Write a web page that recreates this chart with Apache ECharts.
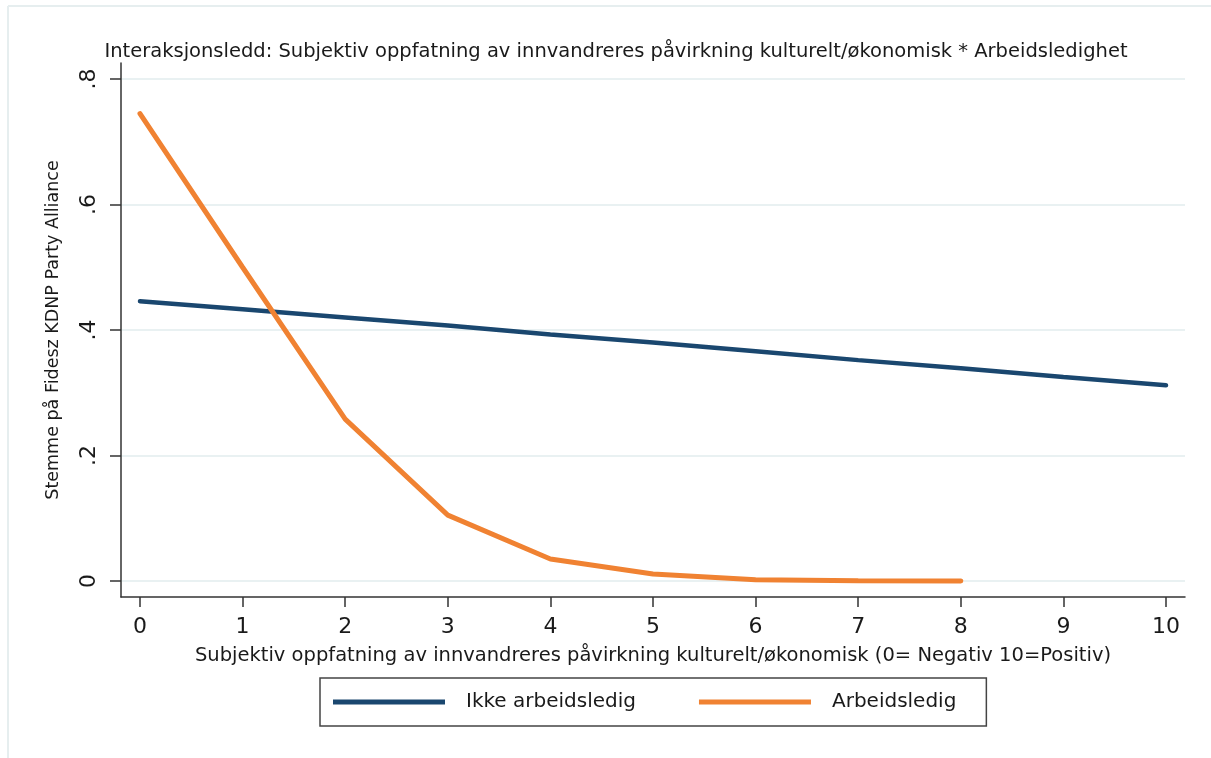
<!DOCTYPE html>
<html>
<head>
<meta charset="utf-8">
<script src="https://cdn.jsdelivr.net/npm/echarts@6/dist/echarts.min.js"></script>
<style>
html,body{margin:0;padding:0;background:#fff;}
#chart{width:1211px;height:758px;}
</style>
</head>
<body>
<div id="chart"></div>
<script>
var xValues = [0, 1, 2, 3, 4, 5, 6, 7, 8, 9, 10];
var ikkeArbeidsledig = [0.446, 0.433, 0.420, 0.407, 0.393, 0.380, 0.366, 0.352, 0.339, 0.325, 0.312];
var arbeidsledig = [0.745, 0.500, 0.258, 0.105, 0.035, 0.011, 0.002, 0.0005, 0.0001];
var xTicks = [0, 1, 2, 3, 4, 5, 6, 7, 8, 9, 10];
var yTicks = [0, 0.2, 0.4, 0.6, 0.8];
var yTickLabels = ['0', '.2', '.4', '.6', '.8'];

var FONT = '"DejaVu Sans", "Liberation Sans", Arial, sans-serif';
var chart = echarts.init(document.getElementById('chart'), null, {renderer: 'canvas'});

function pairs(xs, ys) {
  return ys.map(function (v, i) { return [xs[i], v]; });
}

chart.setOption({
  backgroundColor: '#ffffff',
  animation: false,
  title: {
    text: 'Interaksjonsledd: Subjektiv oppfatning av innvandreres påvirkning kulturelt/økonomisk * Arbeidsledighet',
    left: 611, top: 37, textAlign: 'center',
    textStyle: {fontFamily: FONT, fontSize: 19.5, fontWeight: 'normal', color: '#1a1a1a'}
  },
  graphic: [
    {type: 'line', shape: {x1: 8, y1: 6, x2: 1211, y2: 6}, style: {stroke: '#e6eeef', lineWidth: 2}},
    {type: 'line', shape: {x1: 8, y1: 6, x2: 8, y2: 758}, style: {stroke: '#e6eeef', lineWidth: 2}}
  ],
  legend: {
    left: 320, top: 678,
    itemWidth: 112, itemHeight: 5,
    itemGap: 63,
    padding: [14, 30, 14, 13],
    borderColor: '#444', borderWidth: 1.5, borderRadius: 0,
    icon: 'rect',
    textStyle: {fontFamily: FONT, fontSize: 20, color: '#1a1a1a', padding: [0, 0, 0, 16]},
    data: ['Ikke arbeidsledig', 'Arbeidsledig']
  },
  grid: {left: 121, right: 26, top: 63, bottom: 161, containLabel: false},
  xAxis: {
    type: 'value',
    min: -0.185, max: 10.185,
    name: 'Subjektiv oppfatning av innvandreres påvirkning kulturelt/økonomisk (0= Negativ 10=Positiv)',
    nameLocation: 'middle', nameGap: 49,
    nameTextStyle: {fontFamily: FONT, fontSize: 19.5, color: '#1a1a1a'},
    axisLine: {show: true, onZero: false, lineStyle: {color: '#333', width: 1.5}},
    axisTick: {show: true, length: 10, customValues: xTicks, lineStyle: {color: '#333', width: 1.5}},
    axisLabel: {customValues: xTicks, margin: 19, fontFamily: FONT, fontSize: 22, color: '#1a1a1a',
      formatter: function (v) { return String(v); }},
    splitLine: {show: false}
  },
  yAxis: {
    type: 'value',
    min: -0.0255, max: 0.8255,
    name: 'Stemme på Fidesz KDNP Party Alliance',
    nameLocation: 'middle', nameGap: 59, nameRotate: 90,
    nameTextStyle: {fontFamily: FONT, fontSize: 17.5, color: '#1a1a1a'},
    axisLine: {show: true, onZero: false, lineStyle: {color: '#333', width: 1.5}},
    axisTick: {show: true, length: 11, customValues: yTicks, lineStyle: {color: '#333', width: 1.5}},
    axisLabel: {customValues: yTicks, rotate: 90, margin: 21, fontFamily: FONT, fontSize: 22, color: '#1a1a1a',
      formatter: function (v) {
        var i = yTicks.findIndex(function (t) { return Math.abs(t - v) < 1e-6; });
        return i >= 0 ? yTickLabels[i] : '';
      }},
    splitLine: {show: true, lineStyle: {color: '#e9f1f2', width: 2}}
  },
  series: [
    {
      name: 'Ikke arbeidsledig', type: 'line', data: pairs(xValues, ikkeArbeidsledig),
      showSymbol: false, symbol: 'none',
      lineStyle: {color: '#1a476f', width: 4.5, cap: 'round'},
      itemStyle: {color: '#1a476f'}, z: 3
    },
    {
      name: 'Arbeidsledig', type: 'line', data: pairs(xValues, arbeidsledig),
      showSymbol: false, symbol: 'none',
      lineStyle: {color: '#f08232', width: 5, cap: 'round'},
      itemStyle: {color: '#f08232'}, z: 4
    }
  ]
});
</script>
</body>
</html>
